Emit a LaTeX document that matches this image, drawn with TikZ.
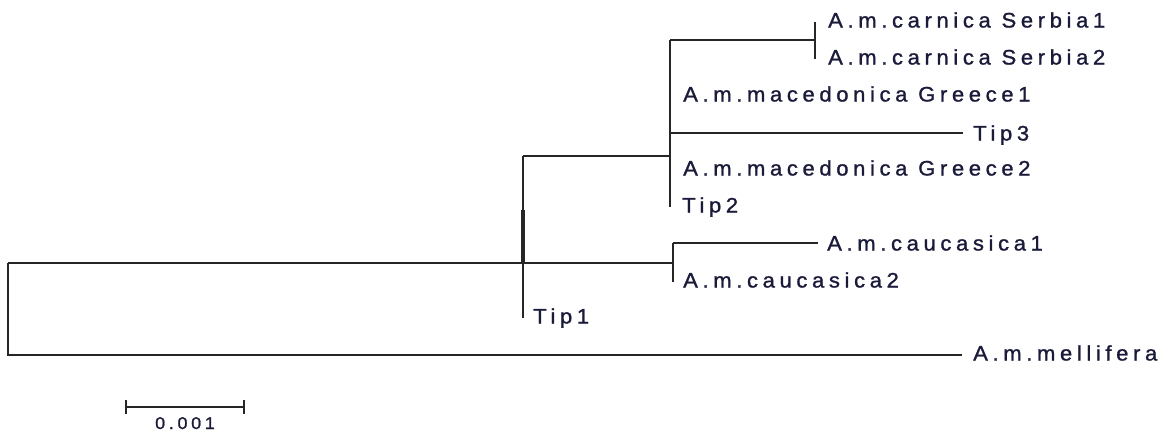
\documentclass[tikz,border=0pt]{standalone}
\usepackage{fontspec}
\setmainfont{Liberation Sans}
\newfontfamily\lblfont{Liberation Sans}[LetterSpace=22, FakeStretch=1.05, FakeBold=1.2]
\definecolor{lblcol}{HTML}{1A1A3A}
\definecolor{brcol}{HTML}{262626}
\begin{document}
\begin{tikzpicture}[x=1pt,y=-1pt,
  branch/.style={draw=brcol, line width=1.4pt},
  leaf/.style={anchor=base west, inner sep=0pt, text=lblcol, font=\lblfont\fontsize{21}{24}\selectfont},
  scalelbl/.style={anchor=base, inner sep=0pt, text=lblcol, font=\lblfont\fontsize{17}{19}\selectfont}]
\useasboundingbox (0,0) rectangle (1163,432);
% internal coordinates
\coordinate (r1) at (8,263);
\coordinate (r2) at (8,355);
\coordinate (A) at (523,263);
\coordinate (Atop) at (523,156);
\coordinate (Abot) at (523,318);
\coordinate (Athick) at (523,210);
\coordinate (B) at (670,156);
\coordinate (Btop) at (670,40);
\coordinate (Bbot) at (670,207);
\coordinate (Bt3) at (670,133);
\coordinate (Cn) at (815,40);
\coordinate (Cntop) at (815,22);
\coordinate (Cnbot) at (815,59);
\coordinate (C) at (673,263);
\coordinate (Ctop) at (673,243);
\coordinate (Cbot) at (673,282);
\coordinate (t3end) at (963,133);
\coordinate (c1end) at (818,243);
\coordinate (melend) at (962,355);
% leaves
\node[leaf] (s1) at (828,27.5) {A.m.carnica Serbia1};
\node[leaf] (s2) at (828,64.5) {A.m.carnica Serbia2};
\node[leaf] (g1) at (683,101.5) {A.m.macedonica Greece1};
\node[leaf] (t3) at (973,140.5) {Tip3};
\node[leaf] (g2) at (683,175.5) {A.m.macedonica Greece2};
\node[leaf] (t2) at (682,212.5) {Tip2};
\node[leaf] (c1) at (827,250.5) {A.m.caucasica1};
\node[leaf] (c2) at (683,287.5) {A.m.caucasica2};
\node[leaf] (t1) at (533,323.5) {Tip1};
\node[leaf] (mel) at (973,360.5) {A.m.mellifera};
% branches
\draw[branch] (r1) -- (A);
\draw[branch] (r1) -- (r2) -- (melend);
\draw[branch] (Atop) -- (Abot);
\draw[brcol, line width=3.5pt] (Athick) -- (A);
\draw[branch] (Atop) -- (B);
\draw[branch] (Btop) -- (Bbot);
\draw[branch] (Btop) -- (Cn);
\draw[branch] (Cntop) -- (Cnbot);
\draw[branch] (Bt3) -- (t3end);
\draw[branch] (A) -- (C);
\draw[branch] (Ctop) -- (Cbot);
\draw[branch] (Ctop) -- (c1end);
% scale bar
\coordinate (sbL) at (126,407);
\coordinate (sbR) at (244,407);
\draw[branch] (sbL) -- (sbR);
\draw[branch] ([yshift=-7pt]sbL) -- ([yshift=7pt]sbL);
\draw[branch] ([yshift=-7pt]sbR) -- ([yshift=7pt]sbR);
\node[scalelbl] (sbl) at (185,429) {0.001};
\end{tikzpicture}
\end{document}
